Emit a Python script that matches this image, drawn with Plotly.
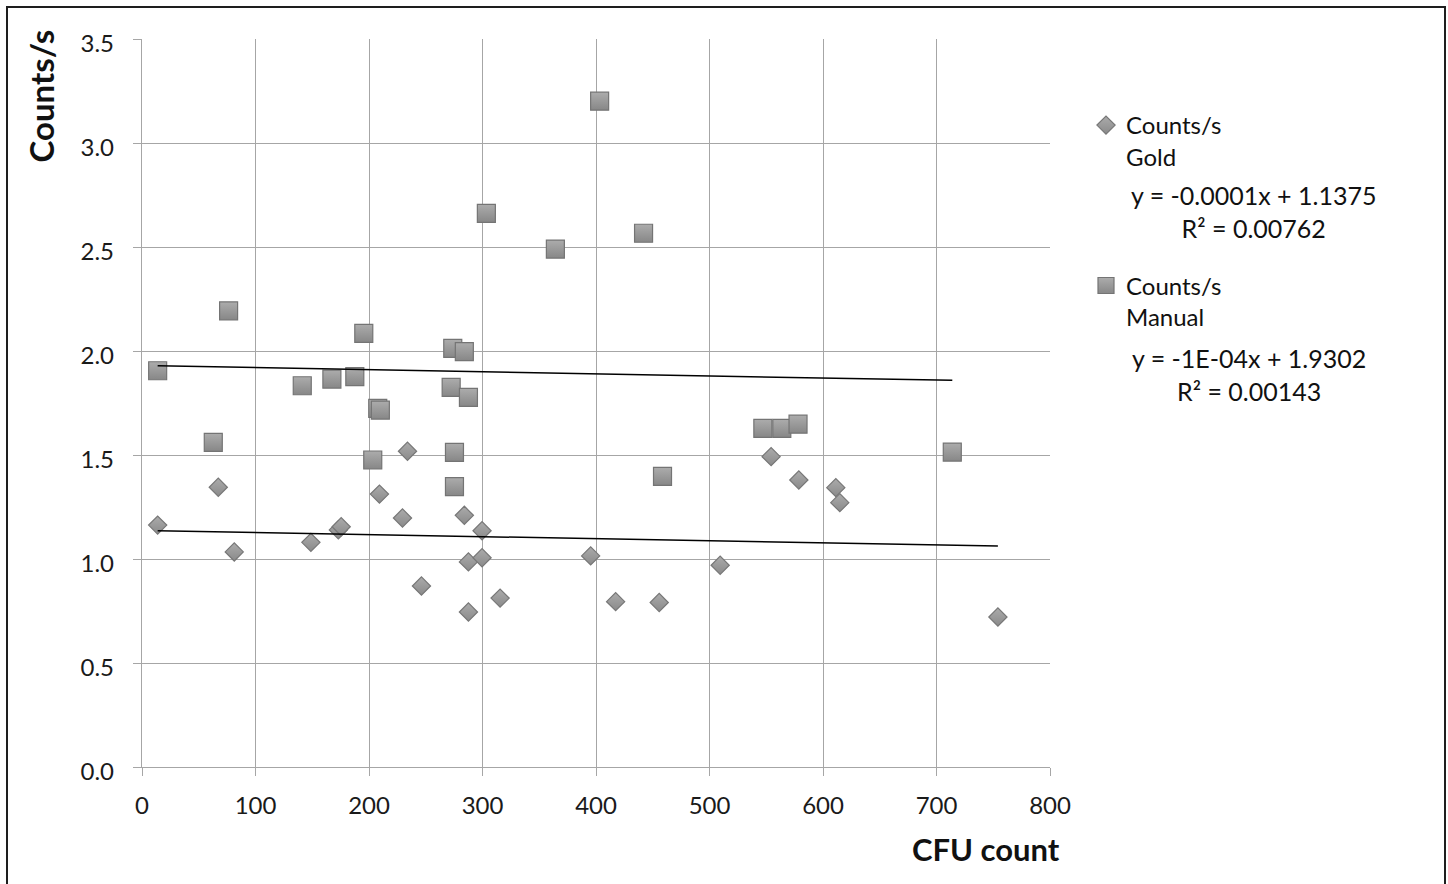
import plotly.graph_objects as go
import numpy as np

# ---- data ----
gold_x = [13.8, 67.2, 81.3, 148.8, 173.0, 175.5, 209.2, 229.5, 233.9, 246.2,
          284.0, 287.6, 287.6, 299.6, 299.6, 315.5, 395.3, 417.3, 455.7, 509.4,
          554.3, 578.7, 611.3, 614.8, 754.1]
gold_y = [1.163, 1.345, 1.034, 1.080, 1.140, 1.155, 1.312, 1.197, 1.518, 0.870,
          1.210, 0.986, 0.745, 1.136, 1.006, 0.812, 1.015, 0.795, 0.791, 0.970,
          1.492, 1.380, 1.343, 1.271, 0.721]

manual_x = [13.8, 62.8, 76.3, 141.2, 167.3, 187.5, 195.4, 203.3, 207.7, 210.0,
            272.4, 273.8, 275.3, 275.3, 284.0, 287.6, 303.4, 364.2, 403.2, 441.9,
            458.6, 547.0, 563.7, 578.0, 713.9]
manual_y = [1.905, 1.561, 2.193, 1.833, 1.865, 1.877, 2.085, 1.476, 1.724, 1.716,
            1.825, 2.013, 1.513, 1.348, 1.997, 1.777, 2.662, 2.490, 3.201, 2.566,
            1.397, 1.628, 1.628, 1.648, 1.514]

gold_slope, gold_intercept = -0.0001, 1.1375
manual_slope, manual_intercept = -0.0001, 1.9302
gold_eq = ["y = -0.0001x + 1.1375", "R² = 0.00762"]
manual_eq = ["y = -1E-04x + 1.9302", "R² = 0.00143"]

gold_name = "Counts/s<br>Gold"
manual_name = "Counts/s<br>Manual"

x_ticks = [0, 100, 200, 300, 400, 500, 600, 700, 800]
y_ticks = [0.0, 0.5, 1.0, 1.5, 2.0, 2.5, 3.0, 3.5]

# ---- figure ----
FONT = "Lato"
GRID = "#a6a6a6"

fig = go.Figure()

fig.add_trace(go.Scatter(
    x=gold_x, y=gold_y, mode="markers", name=gold_name, legendgroup="g",
    marker=dict(symbol="diamond", size=14, color="#ababab",
                gradient=dict(type="vertical", color="#8a8a8a"),
                line=dict(color="#777777", width=1.2)),
))
fig.add_trace(go.Scatter(
    x=manual_x, y=manual_y, mode="markers", name=manual_name, legendgroup="m",
    marker=dict(symbol="square", size=18, color="#acacac",
                gradient=dict(type="vertical", color="#878787"),
                line=dict(color="#747474", width=1.2)),
))

gx = np.array([min(gold_x), max(gold_x)])
fig.add_trace(go.Scatter(x=gx, y=gold_intercept + gold_slope * gx, mode="lines",
                         line=dict(color="black", width=1.5), showlegend=False,
                         hoverinfo="skip"))
mx = np.array([min(manual_x), max(manual_x)])
fig.add_trace(go.Scatter(x=mx, y=manual_intercept + manual_slope * mx, mode="lines",
                         line=dict(color="black", width=1.5), showlegend=False,
                         hoverinfo="skip"))

L, R, T, B = 142, 398, 39, 117
W, H = 1448, 884
PW, PH = W - L - R, H - T - B


def px(xpix):
    return (xpix - L) / PW


def py(ypix):
    return (H - B - ypix) / PH


axis_common = dict(showgrid=True, gridcolor=GRID, gridwidth=1.3, showline=True,
                   linecolor=GRID, linewidth=1.3, ticks="outside", ticklen=8,
                   tickcolor=GRID, tickwidth=1.3, zeroline=False,
                   tickfont=dict(family=FONT, size=24, color="#1a1a1a"))

fig.update_layout(
    width=W, height=H,
    margin=dict(l=L, r=R, t=T, b=B),
    paper_bgcolor="white", plot_bgcolor="white",
    font=dict(family=FONT, color="#111111"),
    xaxis=dict(range=[0, 800], tickvals=x_ticks, ticktext=[str(v) for v in x_ticks],
               ticklabelstandoff=9, **axis_common),
    yaxis=dict(range=[0, 3.5], tickvals=y_ticks, tickformat=".1f",
               ticklabelstandoff=14, ticklabelshift=5, **axis_common),
    legend=dict(x=px(1086), y=py(103), xanchor="left", yanchor="top",
                font=dict(family=FONT, size=24, color="#111111"),
                tracegroupgap=95, valign="top", bgcolor="rgba(0,0,0,0)"),
    showlegend=True,
)

fig.add_annotation(text="<b>Counts/s</b>", textangle=-90, xref="paper", yref="paper",
                   x=px(40), y=py(28), xanchor="center", yanchor="top", showarrow=False,
                   font=dict(family=FONT, size=33, color="#111111"))
fig.add_annotation(text="<b>CFU count</b>", xref="paper", yref="paper",
                   x=px(986), y=py(849), xanchor="center", yanchor="middle", showarrow=False,
                   font=dict(family=FONT, size=31, color="#111111"))
fig.add_annotation(text="<br>".join(gold_eq), xref="paper", yref="paper",
                   x=px(1253), y=py(211), xanchor="center", yanchor="middle",
                   showarrow=False, align="center",
                   font=dict(family=FONT, size=25, color="#111111"))
fig.add_annotation(text="<br>".join(manual_eq), xref="paper", yref="paper",
                   x=px(1249), y=py(374), xanchor="center", yanchor="middle",
                   showarrow=False, align="center",
                   font=dict(family=FONT, size=25, color="#111111"))

fig.add_shape(type="rect", xref="paper", yref="paper",
              x0=px(7), x1=px(1445), y0=py(900), y1=py(7),
              line=dict(color="#1e1e1e", width=2), fillcolor="rgba(0,0,0,0)", layer="above")

fig.write_html("out.html")
